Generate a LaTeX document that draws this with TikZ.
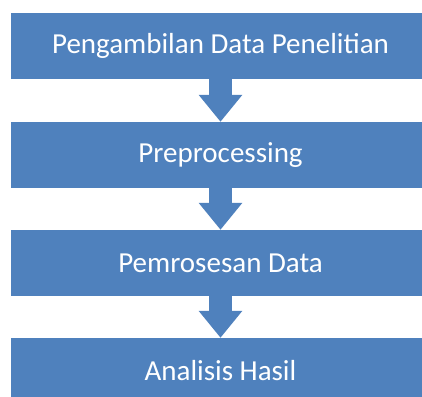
\documentclass[tikz,border=0pt]{standalone}
\usepackage{fontspec}
\setmainfont{Carlito}
\usepackage{tikz}
\usetikzlibrary{arrows.meta}

\definecolor{boxblue}{HTML}{4F81BD}

\tikzset{
  stepbox/.style={fill=boxblue, text=white, minimum width=419pt, minimum height=66pt,
    inner sep=0pt, font=\fontsize{29}{33}\selectfont},
  flowarrow/.style={draw=boxblue, line width=23pt,
    -{Triangle[width=42pt, length=27pt]}, shorten <=-1pt}
}

\begin{document}
\begin{tikzpicture}[x=1pt, y=-1pt]
\useasboundingbox (0,0) rectangle (422,396);
\begin{scope}
\clip (0,0) rectangle (422,396);
% process steps
\node[stepbox] (pengambilan) at (220.5,46) {Pengambilan Data Penelitian};
\node[stepbox] (preproc) at (220.5,155) {Preprocessing};
\node[stepbox] (pemrosesan) at (220.5,263) {Pemrosesan Data};
\node[stepbox] (analisis) at (220.5,371) {Analisis Hasil};
% arrows between steps
\draw[flowarrow] (pengambilan.south) -- (preproc.north);
\draw[flowarrow] (preproc.south) -- (pemrosesan.north);
\draw[flowarrow] (pemrosesan.south) -- (analisis.north);
\end{scope}
\end{tikzpicture}
\end{document}
